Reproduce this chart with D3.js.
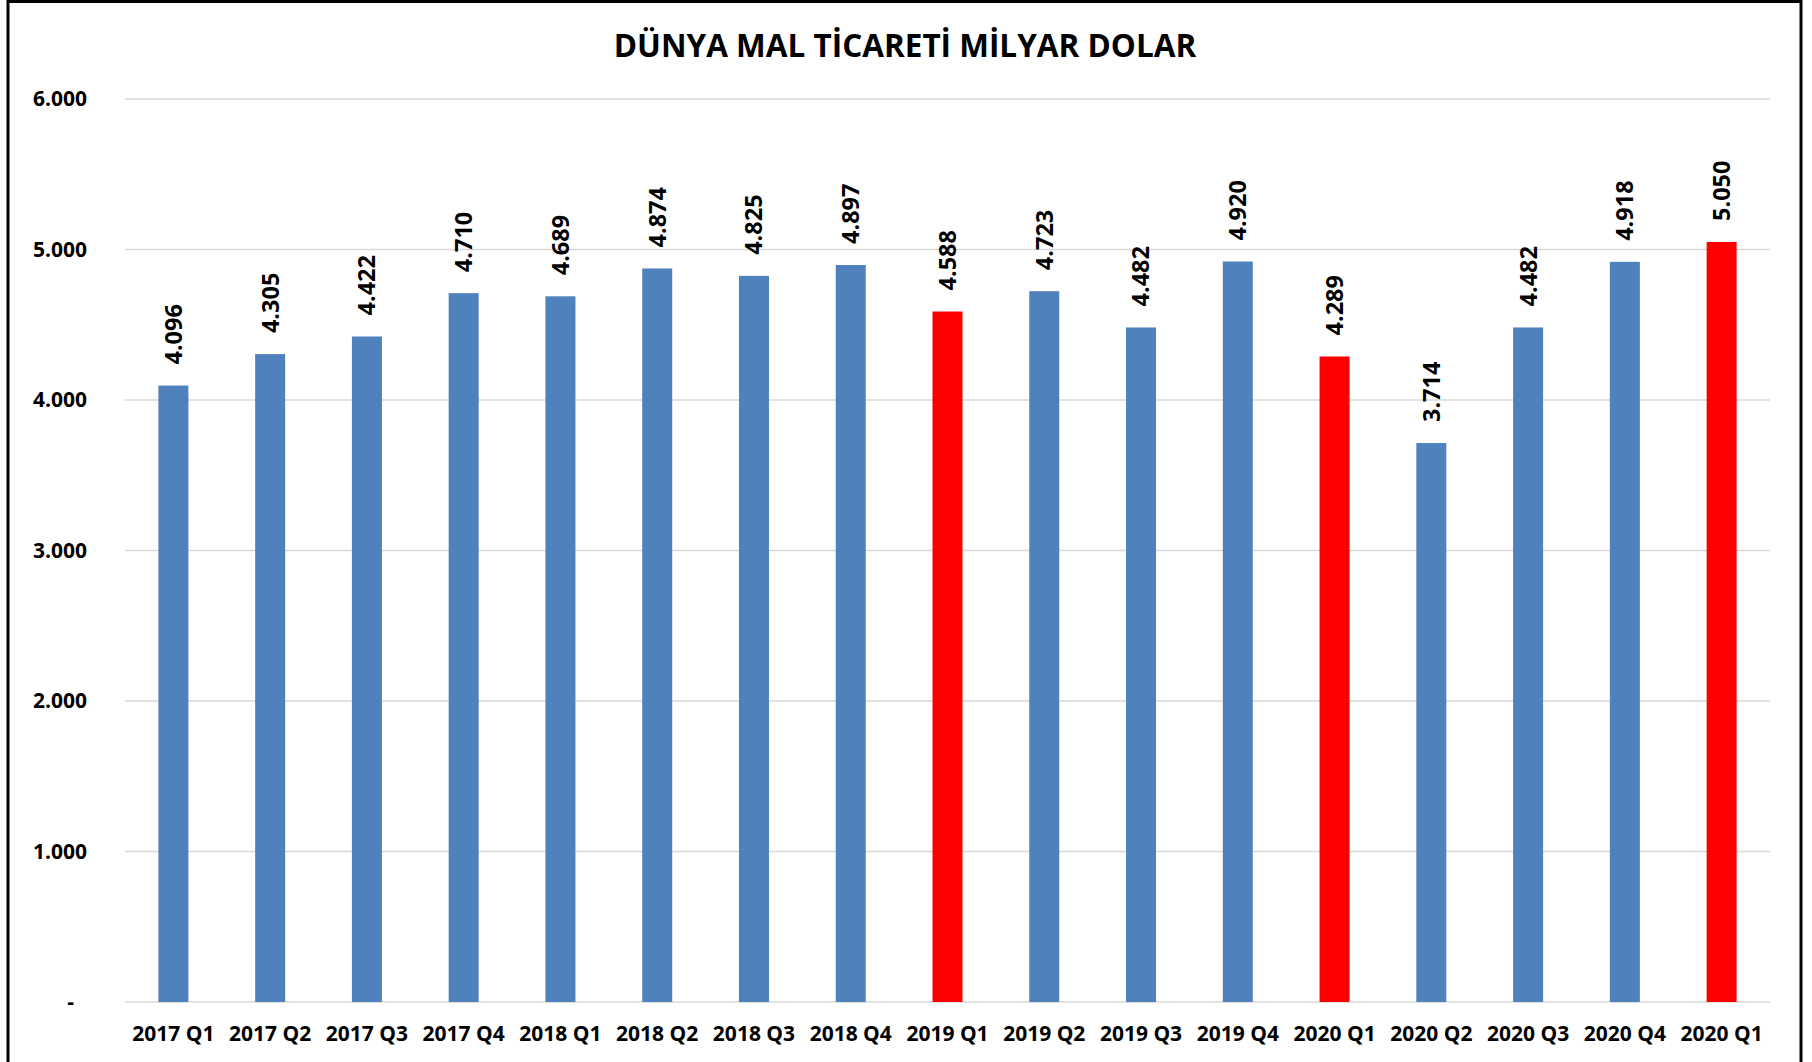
<!DOCTYPE html>
<html>
<head>
<meta charset="utf-8">
<script src="https://cdn.jsdelivr.net/npm/d3@7"></script>
<style>
  body { margin: 0; background: #fff; }
  svg text { font-family: "Open Sans", "DejaVu Sans", sans-serif; font-weight: 700; fill: #000; }
</style>
</head>
<body>
<div id="chart"></div>
<script>
const title = `DÜNYA MAL TİCARETİ MİLYAR DOLAR`;

const quarters = [
  `2017 Q1`, `2017 Q2`, `2017 Q3`, `2017 Q4`,
  `2018 Q1`, `2018 Q2`, `2018 Q3`, `2018 Q4`,
  `2019 Q1`, `2019 Q2`, `2019 Q3`, `2019 Q4`,
  `2020 Q1`, `2020 Q2`, `2020 Q3`, `2020 Q4`,
  `2020 Q1`,
];
const values = [
  4096, 4305, 4422, 4710,
  4689, 4874, 4825, 4897,
  4588, 4723, 4482, 4920,
  4289, 3714, 4482, 4918,
  5050,
];
// bars drawn in red instead of blue
const highlighted = [8, 12, 16];
const yTicks = [0, 1000, 2000, 3000, 4000, 5000, 6000];

const width = 1812;
const height = 1062;
const plot = { left: 125, right: 1770, top: 99, bottom: 1002 };

// turkish number style: 4.096
const tr = d3.formatLocale({ decimal: `,`, thousands: `.`, grouping: [3], currency: [``, ``] });
const fmt = tr.format(`,d`);

const svg = d3
  .select(`#chart`)
  .append(`svg`)
  .attr(`width`, width)
  .attr(`height`, height);

svg.append(`rect`).attr(`width`, width).attr(`height`, height).attr(`fill`, `#fff`);

// outer frame
svg
  .append(`rect`)
  .attr(`x`, 8)
  .attr(`y`, 1.5)
  .attr(`width`, 1793)
  .attr(`height`, 1080)
  .attr(`fill`, `none`)
  .attr(`stroke`, `#000`)
  .attr(`stroke-width`, 3);

svg
  .append(`text`)
  .attr(`x`, 905)
  .attr(`y`, 57)
  .attr(`text-anchor`, `middle`)
  .style(`font-size`, `31.5px`)
  .text(title);

const x = d3
  .scaleBand()
  .domain(d3.range(quarters.length))
  .range([plot.left, plot.right])
  .paddingInner(0.69)
  .paddingOuter(0.345);

const y = d3.scaleLinear().domain([0, 6000]).range([plot.bottom, plot.top]);

// gridlines
svg
  .append(`g`)
  .selectAll(`line`)
  .data(yTicks)
  .join(`line`)
  .attr(`x1`, plot.left)
  .attr(`x2`, plot.right)
  .attr(`y1`, (d) => y(d))
  .attr(`y2`, (d) => y(d))
  .attr(`stroke`, `#d9d9d9`)
  .attr(`stroke-width`, 1.6);

// y axis
const yAxis = svg
  .append(`g`)
  .attr(`transform`, `translate(${plot.left},0)`)
  .call(
    d3
      .axisLeft(y)
      .tickValues(yTicks)
      .tickSize(0)
      .tickPadding(38)
      .tickFormat((d) => (d === 0 ? `-` : fmt(d)))
  );
yAxis.select(`.domain`).remove();
yAxis.selectAll(`text`).style(`font-size`, `21px`).attr(`fill`, `#000`);
yAxis
  .selectAll(`.tick`)
  .filter((d) => d === 0)
  .select(`text`)
  .attr(`dx`, -13);

// bars
svg
  .append(`g`)
  .selectAll(`rect`)
  .data(values)
  .join(`rect`)
  .attr(`x`, (d, i) => x(i))
  .attr(`y`, (d) => y(d))
  .attr(`width`, x.bandwidth())
  .attr(`height`, (d) => y(0) - y(d))
  .attr(`fill`, (d, i) => (highlighted.includes(i) ? `#ff0000` : `#4f81bd`));

// value labels, rotated
svg
  .append(`g`)
  .selectAll(`text`)
  .data(values)
  .join(`text`)
  .attr(`transform`, (d, i) => `translate(${x(i) + x.bandwidth() / 2},${y(d) - 21}) rotate(-90)`)
  .attr(`dy`, `0.36em`)
  .style(`font-size`, `23.5px`)
  .text((d) => fmt(d));

// x axis
const xAxis = svg
  .append(`g`)
  .attr(`transform`, `translate(0,${plot.bottom})`)
  .call(
    d3
      .axisBottom(x)
      .tickSize(0)
      .tickPadding(24)
      .tickFormat((i) => quarters[i])
  );
xAxis.select(`.domain`).remove();
xAxis.selectAll(`text`).style(`font-size`, `21px`).attr(`fill`, `#000`);
</script>
</body>
</html>
